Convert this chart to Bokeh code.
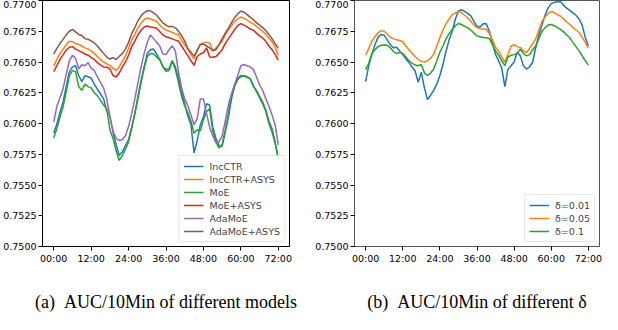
from bokeh.plotting import figure
from bokeh.layouts import row
from bokeh.models import FixedTicker, Range1d, Legend, LegendItem, NumeralTickFormatter
from bokeh.embed import file_html
from bokeh.resources import INLINE

hours = list(range(73))

x_ticks = [0, 12, 24, 36, 48, 60, 72]
x_tick_labels = ["00:00", "12:00", "24:00", "36:00", "48:00", "60:00", "72:00"]
y_ticks = [0.7500, 0.7525, 0.7550, 0.7575, 0.7600, 0.7625, 0.7650, 0.7675, 0.7700]

# (a) models
inc_ctr = [0.75921, 0.75995, 0.76090, 0.76175, 0.76300, 0.76420, 0.76460, 0.76470, 0.76390, 0.76340,
           0.76388, 0.76380, 0.76370, 0.76320, 0.76280, 0.76240, 0.76200, 0.76100, 0.76060, 0.75930,
           0.75830, 0.75740, 0.75770, 0.75820, 0.75870, 0.75970, 0.76080, 0.76220, 0.76350, 0.76460,
           0.76570, 0.76600, 0.76605, 0.76565, 0.76520, 0.76460, 0.76440, 0.76445, 0.76510, 0.76460,
           0.76370, 0.76260, 0.76160, 0.76060, 0.75990, 0.75760, 0.75860, 0.75990, 0.76055, 0.76160,
           0.76150, 0.75970, 0.75880, 0.75820, 0.75815, 0.75930, 0.76050, 0.76200, 0.76300, 0.76370,
           0.76390, 0.76385, 0.76376, 0.76363, 0.76310, 0.76260, 0.76210, 0.76160, 0.76100, 0.76000,
           0.75930, 0.75840, 0.75720]
inc_ctr_asys = [0.76470, 0.76520, 0.76570, 0.76605, 0.76640, 0.76668, 0.76665, 0.76650, 0.76644, 0.76630,
                0.76615, 0.76605, 0.76590, 0.76570, 0.76545, 0.76520, 0.76500, 0.76485, 0.76470, 0.76450,
                0.76430, 0.76460, 0.76505, 0.76550, 0.76610, 0.76680, 0.76725, 0.76775, 0.76815, 0.76845,
                0.76858, 0.76850, 0.76840, 0.76830, 0.76800, 0.76775, 0.76760, 0.76750, 0.76740, 0.76730,
                0.76722, 0.76680, 0.76640, 0.76605, 0.76560, 0.76525, 0.76600, 0.76640, 0.76655, 0.76660,
                0.76655, 0.76595, 0.76610, 0.76640, 0.76668, 0.76720, 0.76760, 0.76795, 0.76830, 0.76850,
                0.76866, 0.76855, 0.76840, 0.76822, 0.76810, 0.76790, 0.76770, 0.76748, 0.76725, 0.76695,
                0.76665, 0.76620, 0.76556]
moe = [0.75881, 0.75960, 0.76050, 0.76135, 0.76260, 0.76390, 0.76430, 0.76420, 0.76300, 0.76270,
       0.76320, 0.76300, 0.76290, 0.76250, 0.76225, 0.76190, 0.76150, 0.76120, 0.75950, 0.75880,
       0.75780, 0.75700, 0.75740, 0.75790, 0.75850, 0.75960, 0.76080, 0.76200, 0.76330, 0.76450,
       0.76545, 0.76570, 0.76565, 0.76540, 0.76520, 0.76460, 0.76425, 0.76430, 0.76510, 0.76440,
       0.76330, 0.76220, 0.76140, 0.76090, 0.76020, 0.75920, 0.75950, 0.75940, 0.76030, 0.76095,
       0.76120, 0.75940, 0.75850, 0.75800, 0.75830, 0.75948, 0.76080, 0.76230, 0.76310, 0.76355,
       0.76380, 0.76390, 0.76380, 0.76365, 0.76300, 0.76270, 0.76220, 0.76175, 0.76110, 0.76020,
       0.75960, 0.75850, 0.75710]
moe_asys = [0.76422, 0.76470, 0.76520, 0.76560, 0.76595, 0.76620, 0.76625, 0.76605, 0.76592, 0.76580,
            0.76565, 0.76555, 0.76538, 0.76520, 0.76495, 0.76475, 0.76460, 0.76458, 0.76445, 0.76390,
            0.76378, 0.76410, 0.76460, 0.76500, 0.76555, 0.76625, 0.76670, 0.76720, 0.76758, 0.76785,
            0.76792, 0.76785, 0.76780, 0.76775, 0.76748, 0.76720, 0.76705, 0.76697, 0.76688, 0.76678,
            0.76670, 0.76630, 0.76590, 0.76552, 0.76510, 0.76472, 0.76545, 0.76565, 0.76575, 0.76615,
            0.76540, 0.76538, 0.76545, 0.76570, 0.76600, 0.76650, 0.76690, 0.76725, 0.76765, 0.76795,
            0.76812, 0.76800, 0.76785, 0.76768, 0.76758, 0.76735, 0.76712, 0.76695, 0.76668, 0.76630,
            0.76600, 0.76560, 0.76515]
ada_moe = [0.76014, 0.76140, 0.76210, 0.76283, 0.76400, 0.76510, 0.76555, 0.76530, 0.76445, 0.76478,
           0.76470, 0.76496, 0.76450, 0.76430, 0.76380, 0.76335, 0.76290, 0.76200, 0.76060, 0.75940,
           0.75880, 0.75862, 0.75870, 0.75900, 0.75975, 0.76080, 0.76200, 0.76330, 0.76460, 0.76570,
           0.76660, 0.76720, 0.76690, 0.76660, 0.76630, 0.76565, 0.76560, 0.76600, 0.76632, 0.76590,
           0.76420, 0.76290, 0.76200, 0.76145, 0.76070, 0.75990, 0.76040, 0.76200, 0.76200, 0.76080,
           0.75970, 0.75900, 0.75845, 0.75850, 0.75900, 0.76020, 0.76150, 0.76240, 0.76320, 0.76390,
           0.76470, 0.76480, 0.76470, 0.76460, 0.76440, 0.76380, 0.76315, 0.76270, 0.76200, 0.76140,
           0.76070, 0.75990, 0.75827]
ada_moe_asys = [0.76564, 0.76610, 0.76650, 0.76684, 0.76720, 0.76750, 0.76765, 0.76745, 0.76724, 0.76715,
                0.76690, 0.76685, 0.76672, 0.76655, 0.76630, 0.76600, 0.76570, 0.76540, 0.76524, 0.76535,
                0.76520, 0.76545, 0.76570, 0.76605, 0.76660, 0.76730, 0.76780, 0.76835, 0.76875, 0.76900,
                0.76918, 0.76915, 0.76900, 0.76880, 0.76850, 0.76818, 0.76800, 0.76786, 0.76790, 0.76778,
                0.76750, 0.76715, 0.76670, 0.76610, 0.76580, 0.76548, 0.76590, 0.76645, 0.76645, 0.76630,
                0.76615, 0.76592, 0.76600, 0.76640, 0.76690, 0.76735, 0.76775, 0.76820, 0.76860, 0.76890,
                0.76915, 0.76905, 0.76885, 0.76865, 0.76845, 0.76820, 0.76800, 0.76780, 0.76755, 0.76725,
                0.76690, 0.76650, 0.76612]

# (b) delta
delta_001 = [0.76341, 0.76470, 0.76560, 0.76640, 0.76700, 0.76724, 0.76718, 0.76680, 0.76640, 0.76615,
             0.76620, 0.76590, 0.76560, 0.76525, 0.76495, 0.76460, 0.76425, 0.76335, 0.76416, 0.76290,
             0.76194, 0.76230, 0.76269, 0.76320, 0.76390, 0.76480, 0.76590, 0.76680, 0.76750, 0.76850,
             0.76915, 0.76925, 0.76912, 0.76895, 0.76875, 0.76830, 0.76790, 0.76785, 0.76810, 0.76810,
             0.76750, 0.76650, 0.76560, 0.76510, 0.76450, 0.76300, 0.76440, 0.76470, 0.76500, 0.76580,
             0.76550, 0.76470, 0.76443, 0.76460, 0.76500, 0.76620, 0.76720, 0.76800, 0.76880, 0.76940,
             0.76975, 0.76985, 0.76990, 0.76992, 0.76960, 0.76938, 0.76920, 0.76900, 0.76880, 0.76850,
             0.76800, 0.76700, 0.76630]
delta_005 = [0.76556, 0.76610, 0.76670, 0.76705, 0.76735, 0.76755, 0.76750, 0.76725, 0.76700, 0.76690,
             0.76680, 0.76675, 0.76665, 0.76630, 0.76600, 0.76570, 0.76545, 0.76520, 0.76505, 0.76500,
             0.76510, 0.76530, 0.76564, 0.76630, 0.76700, 0.76760, 0.76810, 0.76850, 0.76885, 0.76900,
             0.76912, 0.76900, 0.76880, 0.76860, 0.76830, 0.76800, 0.76780, 0.76770, 0.76768, 0.76765,
             0.76730, 0.76680, 0.76620, 0.76590, 0.76540, 0.76500, 0.76560, 0.76630, 0.76640, 0.76625,
             0.76617, 0.76590, 0.76577, 0.76610, 0.76650, 0.76690, 0.76760, 0.76830, 0.76865, 0.76895,
             0.76912, 0.76900, 0.76885, 0.76872, 0.76850, 0.76825, 0.76805, 0.76780, 0.76760, 0.76740,
             0.76700, 0.76660, 0.76612]
delta_01 = [0.76438, 0.76490, 0.76570, 0.76600, 0.76625, 0.76636, 0.76638, 0.76636, 0.76615, 0.76585,
            0.76570, 0.76577, 0.76570, 0.76540, 0.76510, 0.76490, 0.76475, 0.76470, 0.76480, 0.76410,
            0.76390, 0.76410, 0.76443, 0.76510, 0.76580, 0.76630, 0.76690, 0.76730, 0.76765, 0.76795,
            0.76813, 0.76805, 0.76790, 0.76778, 0.76760, 0.76735, 0.76711, 0.76705, 0.76700, 0.76697,
            0.76690, 0.76640, 0.76590, 0.76555, 0.76510, 0.76470, 0.76540, 0.76555, 0.76560, 0.76570,
            0.76604, 0.76570, 0.76550, 0.76560, 0.76600, 0.76630, 0.76690, 0.76750, 0.76778, 0.76800,
            0.76805, 0.76795, 0.76780, 0.76765, 0.76745, 0.76720, 0.76697, 0.76660, 0.76625, 0.76590,
            0.76550, 0.76510, 0.76476]

models_a = ["IncCTR", "IncCTR+ASYS", "MoE", "MoE+ASYS", "AdaMoE", "AdaMoE+ASYS"]
series_a = [inc_ctr, inc_ctr_asys, moe, moe_asys, ada_moe, ada_moe_asys]
labels_b = ["δ=0.01", "δ=0.05", "δ=0.1"]
series_b = [delta_001, delta_005, delta_01]
colors = ["#1f77b4", "#ff7f0e", "#2ca02c", "#d62728", "#9467bd", "#8c564b"]

TICK_FONT = "DejaVu Sans"
NB = "\u00a0"


def make_fig(width, border_left, border_right, caption, names, series, outline_color):
    p = figure(width=width, height=314, output_backend="svg", toolbar_location=None,
               x_range=Range1d(-3.6, 75.6), y_range=Range1d(0.75, 0.77),
               min_border_left=border_left, min_border_right=border_right,
               min_border_top=0, min_border_bottom=60)
    p.grid.visible = False
    p.outline_line_color = outline_color
    p.outline_line_width = 1
    p.background_fill_color = "white"
    p.border_fill_color = "white"

    items = []
    for name, ys, c in zip(names, series, colors):
        r = p.line(hours, ys, line_color=c, line_width=1.5)
        items.append(LegendItem(label=name, renderers=[r]))

    for ax in (p.xaxis[0], p.yaxis[0]):
        ax.axis_line_color = outline_color
        ax.major_tick_line_color = "black"
        ax.minor_tick_line_color = None
        ax.major_tick_in = 0
        ax.major_tick_out = 4
        ax.major_label_standoff = 2
        ax.major_label_text_font = TICK_FONT
        ax.major_label_text_font_size = "9.5px"
        ax.major_label_text_color = "black"

    p.xaxis.ticker = FixedTicker(ticks=x_ticks)
    p.xaxis.major_label_overrides = {t: l for t, l in zip(x_ticks, x_tick_labels)}
    p.yaxis.ticker = FixedTicker(ticks=y_ticks)
    p.yaxis.formatter = NumeralTickFormatter(format="0.0000")

    p.xaxis.axis_label = caption
    p.xaxis.axis_label_standoff = 25
    p.xaxis.axis_label_text_font = "Liberation Serif"
    p.xaxis.axis_label_text_font_style = "normal"
    p.xaxis.axis_label_text_font_size = "18px"
    p.xaxis.axis_label_text_color = "black"

    leg = Legend(items=items, location="bottom_right")
    leg.label_text_font = TICK_FONT
    leg.label_text_font_size = "9.5px"
    leg.label_height = 12
    leg.glyph_height = 12
    leg.glyph_width = 20
    leg.label_standoff = 6
    leg.spacing = 1
    leg.padding = 4
    leg.margin = 4
    leg.border_line_color = "#cccccc"
    leg.border_line_width = 1
    leg.background_fill_alpha = 0.85
    p.add_layout(leg)
    return p


p1 = make_fig(303, 40, 14, "(a)" + NB * 2 + "AUC/10Min of different models",
              models_a, series_a, "black")
p2 = make_fig(299, 51, 3, "(b)" + NB * 2 + "AUC/10Min of different δ",
              labels_b, series_b, "#555555")

layout = row(p1, p2)
open("out.html", "w").write(file_html(layout, INLINE))
